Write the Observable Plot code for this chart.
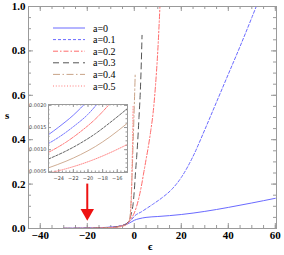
<!DOCTYPE html>
<html><head><meta charset="utf-8">
<script src="https://cdn.jsdelivr.net/npm/d3@7"></script>
<script src="https://cdn.jsdelivr.net/npm/@observablehq/plot@0.6"></script>
<style>
body{margin:0;background:#fff;}
#wrap{position:relative;width:284px;height:255px;overflow:hidden;}
.lab{position:absolute;font-family:"Liberation Serif",serif;font-weight:bold;font-size:11px;color:#000;}
</style></head>
<body><div id="wrap"></div>
<script>
// ---- data ----
const seriesNames = ["a=0","a=0.1","a=0.2","a=0.3","a=0.4","a=0.5"];
const seriesColors = ["#6a6aff","#6a6aff","#ff6b6b","#555555","#c9a488","#ff7c7c"];
const seriesDash = [null,"3,2","5,2,1.5,2","6,4","7,2.5,1.5,2.5","1,1.8"];
const insetDash = [null,"1.8,1.2","3,1.2,1,1.2","2.5,1.5",null,"0.8,1.2"];

const main_a0 = [[-30,0.0009],[-20,0.0022],[-15,0.0035],[-10,0.006],[-7,0.009],[-5,0.013],[-3,0.02],[-2,0.025],[-1,0.031],[0,0.037],[2,0.044],[5,0.05],[10,0.054],[15,0.058],[20,0.063],[30,0.077],[40,0.095],[50,0.115],[60,0.136]];
const main_a1 = [[-30,0.0007],[-20,0.0018],[-10,0.006],[-5,0.015],[-3,0.024],[-1,0.042],[0,0.055],[3,0.075],[8,0.11],[12,0.14],[16,0.177],[20,0.23],[25,0.325],[30,0.445],[35,0.57],[40,0.695],[45,0.82],[50,0.95],[53,1.03]];
const main_a2 = [[-30,0.0006],[-20,0.0015],[-10,0.005],[-5,0.014],[-3,0.025],[-2,0.035],[-1,0.05],[0,0.07],[1,0.1],[2,0.14],[3,0.19],[4,0.25],[5,0.31],[6,0.37],[7,0.44],[8,0.52],[9,0.64],[10,0.8],[11,1.02]];
const main_a3 = [[-30,0.0005],[-20,0.0013],[-10,0.0045],[-5,0.013],[-3,0.025],[-2,0.04],[-1,0.08],[-0.5,0.11],[0,0.17],[0.5,0.25],[1,0.32],[1.5,0.4],[2,0.5],[2.5,0.6],[3,0.75],[3.3,0.87]];
const main_a4 = [[-30,0.0004],[-20,0.001],[-10,0.004],[-5,0.012],[-3,0.022],[-2,0.04],[-1.5,0.1],[-1,0.22],[-0.5,0.38],[0,0.55],[0.4,0.7]];
const main_a5 = [[-30,0.0003],[-20,0.0008],[-10,0.003],[-5,0.01],[-3,0.02],[-2,0.035],[-1.5,0.08],[-1.2,0.15],[-1,0.25],[-0.7,0.4],[-0.5,0.55]];

const inset_a0 = [[-25.4,0.00134],[-24,0.00151],[-23,0.00164],[-22,0.00178],[-21,0.00194],[-20.4,0.00204]];
const inset_a1 = [[-25.4,0.00114],[-24,0.00128],[-22,0.00152],[-20,0.0018],[-18.7,0.00204]];
const inset_a2 = [[-25.4,0.00094],[-23,0.00117],[-21,0.00141],[-19,0.00169],[-17,0.00204]];
const inset_a3 = [[-25.4,0.00079],[-23,0.00097],[-21,0.00115],[-19,0.00136],[-17,0.00161],[-14.6,0.00193]];
const inset_a4 = [[-25.4,0.00059],[-23,0.00074],[-21,0.00089],[-19,0.00107],[-17,0.00129],[-14.6,0.0016]];
const inset_a5 = [[-25.4,0.00047],[-23,0.00057],[-21,0.00067],[-19,0.00079],[-17,0.00093],[-14.6,0.00112]];

const xMajor = [-40,-20,0,20,40,60];
const xMinor = d3.range(-45,61,5);
const yMajor = [0,0.2,0.4,0.6,0.8,1.0];
const yMinor = d3.range(0,1.001,0.05);
const insetXMajor = [-24,-22,-20,-18,-16];
const insetXMinor = d3.range(-25,-14.6,0.5);
const insetYMajor = [0.0005,0.001,0.0015,0.002];
const insetYMinor = d3.range(0.0005,0.00201,0.0001);
const arrowData = [{x:-20, y1:0.20, y2:0.075}];

const mainSeries = [main_a0,main_a1,main_a2,main_a3,main_a4,main_a5];
const insetSeries = [inset_a0,inset_a1,inset_a2,inset_a3,inset_a4,inset_a5];
const minus = d => d < 0 ? "\u2212" + (-d) : String(d);

// ---- main chart ----
const frameStroke = "#9a9a9a";
const mainH = 255, mT = 6, mB = 27;
const innerH = mainH - mT - mB;
const innerW = 284 - 28 - 8;
const lineMarks = mainSeries.map((s,i) => Plot.line(s, {x:d=>d[0], y:d=>d[1], stroke:seriesColors[i], strokeWidth:1, strokeDasharray:seriesDash[i], curve:"monotone-x", clip:true}));
const main = Plot.plot({
  width:284, height:mainH, marginLeft:28, marginRight:8, marginTop:mT, marginBottom:mB,
  x:{domain:[-45,60.5]}, y:{domain:[0,1]},
  style:{fontFamily:"'Liberation Serif',serif", fontWeight:"bold", fontSize:"11px", color:"#000", background:"white"},
  marks:[
    Plot.tickX(xMajor,{x:d=>d, insetTop:innerH-5, stroke:frameStroke}),
    Plot.tickX(xMajor,{x:d=>d, insetBottom:innerH-5, stroke:frameStroke}),
    Plot.tickX(xMinor,{x:d=>d, insetTop:innerH-3, stroke:frameStroke}),
    Plot.tickX(xMinor,{x:d=>d, insetBottom:innerH-3, stroke:frameStroke}),
    Plot.tickY(yMajor,{y:d=>d, insetRight:innerW-5, stroke:frameStroke}),
    Plot.tickY(yMajor,{y:d=>d, insetLeft:innerW-5, stroke:frameStroke}),
    Plot.tickY(yMinor,{y:d=>d, insetRight:innerW-3, stroke:frameStroke}),
    Plot.tickY(yMinor,{y:d=>d, insetLeft:innerW-3, stroke:frameStroke}),
    Plot.axisX(xMajor,{tickSize:0, tickPadding:3, tickFormat:minus, label:null}),
    Plot.axisY(yMajor,{tickSize:0, tickPadding:3, tickFormat:d=>d.toFixed(1), label:null}),
    ...lineMarks,
    Plot.ruleX(arrowData,{x:"x", y1:"y1", y2:"y2", stroke:"#ee1111", strokeWidth:2}),
    Plot.dot(arrowData,{x:"x", y:"y2", symbol:"triangle", rotate:180, fill:"#ee1111", stroke:"none", r:5, dy:1}),
    Plot.frame({stroke:frameStroke})
  ]
});
const wrap = document.getElementById("wrap");
main.style.position="absolute"; main.style.left="0"; main.style.top="0";
wrap.appendChild(main);

// ---- inset ----
const iW = 110, iH = 85, iL = 28, iR = 3, iT = 4, iB = 13;
const iInnerH = iH - iT - iB, iInnerW = iW - iL - iR;
const inset = Plot.plot({
  width:iW, height:iH, marginLeft:iL, marginRight:iR, marginTop:iT, marginBottom:iB,
  x:{domain:[-25.4,-14.6]}, y:{domain:[0.000485,0.00202]},
  style:{fontFamily:"'DejaVu Sans',sans-serif", fontSize:"5px", color:"#444", background:"transparent"},
  marks:[
    Plot.frame({fill:"white", stroke:"none"}),
    Plot.tickX(insetXMajor,{x:d=>d, insetTop:iInnerH-3, stroke:frameStroke}),
    Plot.tickX(insetXMajor,{x:d=>d, insetBottom:iInnerH-3, stroke:frameStroke}),
    Plot.tickX(insetXMinor,{x:d=>d, insetTop:iInnerH-1.5, stroke:frameStroke}),
    Plot.tickX(insetXMinor,{x:d=>d, insetBottom:iInnerH-1.5, stroke:frameStroke}),
    Plot.tickY(insetYMajor,{y:d=>d, insetRight:iInnerW-3, stroke:frameStroke}),
    Plot.tickY(insetYMajor,{y:d=>d, insetLeft:iInnerW-3, stroke:frameStroke}),
    Plot.tickY(insetYMinor,{y:d=>d, insetRight:iInnerW-1.5, stroke:frameStroke}),
    Plot.tickY(insetYMinor,{y:d=>d, insetLeft:iInnerW-1.5, stroke:frameStroke}),
    Plot.axisX(insetXMajor,{tickSize:0, tickPadding:4, tickFormat:minus, label:null}),
    Plot.axisY(insetYMajor,{tickSize:0, tickPadding:2, tickFormat:d=>d.toFixed(4), label:null}),
    ...insetSeries.map((s,i) => Plot.line(s,{x:d=>d[0], y:d=>d[1], stroke:seriesColors[i], strokeWidth:0.9, strokeDasharray:insetDash[i], curve:"monotone-x", clip:true})),
    Plot.frame({stroke:frameStroke})
  ]
});
inset.style.position="absolute"; inset.style.left="20px"; inset.style.top="100px";
wrap.appendChild(inset);

// ---- legend ----
const ns = "http://www.w3.org/2000/svg";
const leg = document.createElementNS(ns,"svg");
leg.setAttribute("width","90"); leg.setAttribute("height","80");
leg.style.position="absolute"; leg.style.left="50px"; leg.style.top="20px";
seriesNames.forEach((name,i)=>{
  const y = 8 + i*11.6;
  const l = document.createElementNS(ns,"line");
  l.setAttribute("x1",3); l.setAttribute("x2",35); l.setAttribute("y1",y); l.setAttribute("y2",y);
  l.setAttribute("stroke",seriesColors[i]); l.setAttribute("stroke-width",1);
  if (seriesDash[i]) l.setAttribute("stroke-dasharray",seriesDash[i]);
  leg.appendChild(l);
  const t = document.createElementNS(ns,"text");
  t.setAttribute("x",43); t.setAttribute("y",y+3.5);
  t.setAttribute("font-family","'Liberation Serif',serif"); t.setAttribute("font-size","10");
  t.textContent = name;
  leg.appendChild(t);
});
wrap.appendChild(leg);

// ---- axis titles ----
const sLab = document.createElement("div"); sLab.className="lab"; sLab.textContent="s";
sLab.style.left="5px"; sLab.style.top="109px"; wrap.appendChild(sLab);
const eLab = document.createElement("div"); eLab.className="lab"; eLab.textContent="\u03f5";
eLab.style.left="148px"; eLab.style.top="240px"; wrap.appendChild(eLab);
</script></body></html>
